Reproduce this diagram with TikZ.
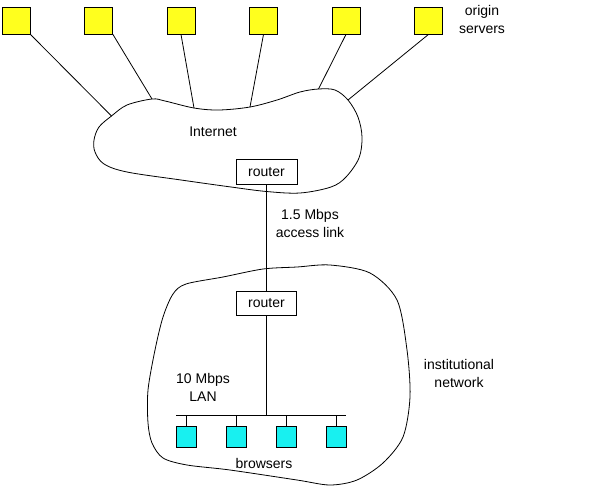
\documentclass[tikz,border=0pt]{standalone}
\usepackage{fontspec}
\setmainfont{Liberation Sans}
\begin{document}
\begin{tikzpicture}[x=1pt,y=-1pt,
  line width=0.8pt,
  server/.style={draw=black, fill=srvyellow, minimum width=28pt, minimum height=27pt, inner sep=0pt},
  browser/.style={draw=black, fill=brcyan, minimum width=20pt, minimum height=21pt, inner sep=0pt},
  routerbox/.style={draw=black, fill=white, minimum width=60pt, minimum height=25pt, inner sep=0pt, font=\fontsize{14}{18}\selectfont},
  label/.style={align=center, inner sep=0pt, font=\fontsize{14}{18}\selectfont},
  cloud/.style={draw=black, line width=0.8pt},
  link/.style={draw=black, line width=0.8pt}
]
\definecolor{srvyellow}{RGB}{255,255,30}
\definecolor{brcyan}{RGB}{24,240,240}
\useasboundingbox (0,0) rectangle (600,488);
\fill[white] (0,0) rectangle (600,488);

% Internet cloud
\draw[cloud] plot[smooth cycle, tension=0.55] coordinates {
  (111.5,116) (127,105) (152,99) (165,101) (194,108) (219,110) (250,107)
  (277,100) (300,92) (318.5,89) (335,90) (348,100) (358,117) (362,137)
  (359,158) (346,177) (331,187) (300,193) (266.5,191.5) (231,187) (181,180)
  (127,172) (104,164) (95,152) (94,140) (99,127)};
\coordinate (c1) at (111.5,116);
\coordinate (c2) at (152,99);
\coordinate (c3) at (194,108);
\coordinate (c4) at (250,107);
\coordinate (c5) at (318.5,89);
\coordinate (c6) at (348,100);

% institutional cloud
\draw[cloud] plot[smooth cycle, tension=0.5] coordinates {
  (186,284) (223,277) (263,269) (297,267) (330,265) (370,273) (397,300)
  (407,350) (410,397) (403,437) (383,463) (357,480) (330,485) (297,480)
  (230,470) (187,465) (163,458) (152,443) (148,423) (148,390) (155,350)
  (163,317) (173,294)};

% servers
\node[server] (s1) at (16,20.5) {};
\node[server] (s2) at (98.5,20.5) {};
\node[server] (s3) at (181,20.5) {};
\node[server] (s4) at (263.5,20.5) {};
\node[server] (s5) at (346,20.5) {};
\node[server] (s6) at (428.5,20.5) {};

\draw[link] (s1.south east) -- (c1);
\draw[link] (s2.south east) -- (c2);
\draw[link] (s3.south) -- (c3);
\draw[link] (s4.south) -- (c4);
\draw[link] (s5.south) -- (c5);
\draw[link] (s6.south) -- (c6);

\node[label] (orig) at (482,19.5) {origin\\servers};
\node[label] (inet) at (213,132) {Internet};

% routers
\node[routerbox, minimum width=61pt] (r1) at (266.5,172) {router};
\node[routerbox, minimum width=60pt, minimum height=24pt] (r2) at (266.5,303) {router};
\draw[link] (r1.south) -- (r2.north);
\node[label] (acc) at (310,223) {1.5 Mbps\\access link};

% LAN
\coordinate (busL) at (176,415);
\coordinate (busR) at (346,415);
\coordinate (busM) at (266.5,415);
\draw[link] (r2.south) -- (busM);
\draw[link] (busL) -- (busR);

\node[browser] (b1) at (186.5,436.5) {};
\node[browser] (b2) at (236.5,436.5) {};
\node[browser] (b3) at (286.5,436.5) {};
\node[browser] (b4) at (336.5,436.5) {};
\foreach \b in {b1,b2,b3,b4} {
  \draw[link] (\b.north) -- (\b.north |- busL);
}

\node[label] (lan) at (203,387) {10 Mbps\\LAN};
\node[label] (inst) at (459,373) {institutional\\network};
\node[label] (brw) at (264,463) {browsers};
\end{tikzpicture}
\end{document}
